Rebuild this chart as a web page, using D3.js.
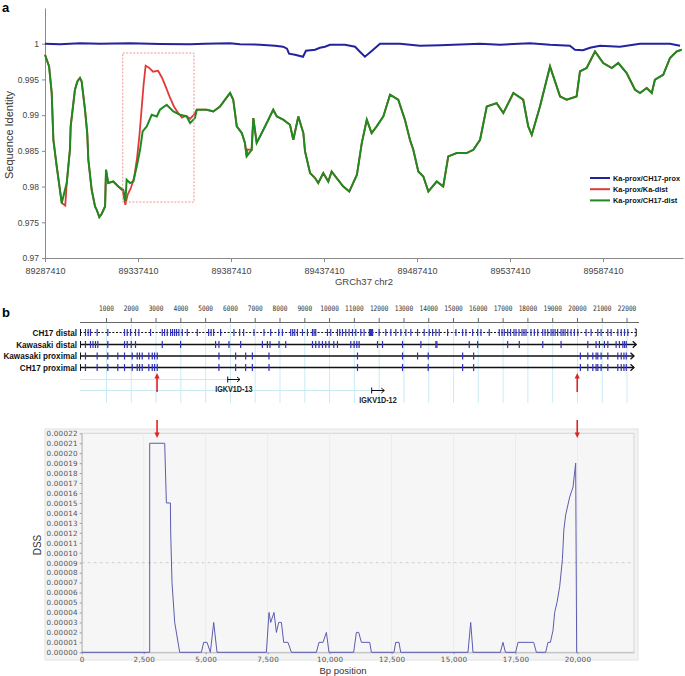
<!DOCTYPE html>
<html>
<head>
<meta charset="utf-8">
<script src="https://cdn.jsdelivr.net/npm/d3@7/dist/d3.min.js"></script>
<style>
  body { margin: 0; background: #fff; }
  text { font-family: "Liberation Sans", Arial, sans-serif; }
</style>
</head>
<body>
<svg id="fig" width="685" height="676"></svg>
<script>
// ---------- panel a : sequence identity along GRCh37 chr2 ----------
var chrStart = 89287410;
var chrTicks = [89287410, 89337410, 89387410, 89437410, 89487410, 89537410, 89587410];
var identTicks = [0.97, 0.975, 0.98, 0.985, 0.99, 0.995, 1];
var identTickLabels = ["0.97", "0.975", "0.98", "0.985", "0.99", "0.995", "1"];
var seriesNames = ["Ka-prox/CH17-prox", "Ka-prox/Ka-dist", "Ka-prox/CH17-dist"];
var seriesColors = ["#2323a0", "#e0393b", "#1f8a1f"];

// positions are kb from chrStart
var blueKb = [0, 8.1, 18.8, 29.6, 45.7, 61.8, 78, 86, 99.5, 104.8, 115.6, 123.7, 128, 130.1, 131.2, 134.4, 138.7, 140.3, 145.2, 147.8, 150.5, 153.2, 161.3, 166.7, 169.3, 172, 175.8, 180.1, 190.9, 201.6, 212.4, 233.9, 244.6, 260.7, 271.5, 282.2, 284.9, 289.2, 293, 298.4, 309.1, 319.9, 336, 341.4];
var blueVal = [1, 0.99993, 1.00007, 1, 1.00007, 0.99997, 0.99993, 1, 1.00007, 0.99993, 0.99986, 0.99972, 0.99958, 0.9993, 0.9986, 0.99846, 0.99818, 0.99902, 0.99916, 0.99944, 0.99958, 0.99986, 0.99986, 0.99958, 0.99888, 0.99818, 0.99902, 1, 1, 0.99972, 0.99979, 1, 0.99986, 1.00007, 0.99986, 0.99972, 0.99916, 0.99909, 0.99944, 0.99972, 0.99958, 1, 1, 0.99972];

var greenKb = [0, 2.2, 3.6, 4.5, 6.3, 9, 11.7, 13.4, 13.8, 16.1, 17.4, 18.8, 19.7, 21.5, 22.7, 23.3, 25.1, 26.9, 27.8, 29.2, 30.5, 32.3, 32.8, 34, 36.7, 39.4, 42.1, 43.2, 43.9, 45.7, 47.5, 49.3, 51.1, 52.5, 54.7, 57.4, 60.1, 61.8, 65.4, 69, 72.6, 76.2, 78, 80.6, 81.6, 86.9, 90.5, 94.1, 99.5, 101.2, 103.1, 105.8, 107.5, 108.4, 111.1, 112, 113.8, 115.6, 119.2, 122.7, 124.6, 128.1, 131.7, 133.5, 136.2, 138.9, 139.8, 142.5, 145.2, 146.9, 149.6, 152.3, 154.1, 156.8, 160.4, 163.6, 167.7, 170.3, 173, 175.6, 178.3, 181.9, 185.5, 189.9, 193.5, 196.2, 198, 200.7, 203.4, 206.1, 210.6, 214.1, 216.8, 221.3, 226.7, 230.3, 233.9, 237.5, 242.8, 246.4, 251.8, 257.1, 259.8, 261.7, 266.1, 271.5, 276.9, 280.5, 285.8, 287.6, 291.2, 295.7, 300.1, 304.7, 308.2, 312.7, 317.2, 319.9, 323.5, 326.2, 327.9, 332.4, 336, 339.6, 342.3];
var greenVal = [0.99846, 0.99682, 0.99314, 0.98655, 0.98282, 0.97769, 0.98053, 0.98515, 0.98842, 0.99356, 0.99472, 0.9952, 0.99472, 0.99076, 0.98749, 0.98375, 0.97955, 0.97721, 0.97675, 0.97573, 0.97619, 0.97721, 0.98235, 0.98049, 0.98071, 0.98001, 0.97955, 0.97791, 0.98095, 0.98049, 0.98071, 0.98282, 0.98515, 0.98772, 0.98842, 0.99006, 0.98982, 0.99076, 0.99146, 0.99052, 0.99006, 0.98982, 0.98889, 0.98959, 0.99076, 0.99076, 0.99052, 0.99122, 0.9931, 0.99216, 0.98842, 0.98749, 0.98609, 0.98422, 0.98515, 0.98959, 0.98613, 0.98702, 0.98889, 0.99076, 0.98982, 0.98936, 0.98866, 0.98655, 0.98982, 0.98749, 0.98492, 0.98189, 0.98119, 0.98049, 0.98189, 0.98071, 0.98211, 0.98119, 0.98001, 0.97931, 0.98165, 0.98609, 0.98936, 0.98749, 0.98842, 0.98982, 0.99286, 0.99216, 0.98936, 0.98655, 0.98515, 0.98211, 0.98141, 0.97931, 0.98071, 0.98001, 0.98422, 0.98469, 0.98469, 0.98515, 0.98655, 0.99122, 0.99169, 0.99029, 0.9931, 0.99216, 0.98842, 0.98725, 0.99122, 0.99682, 0.99262, 0.99216, 0.99262, 0.99612, 0.9966, 0.99892, 0.9973, 0.9966, 0.9973, 0.9959, 0.99356, 0.9931, 0.9938, 0.9931, 0.99496, 0.99566, 0.998, 0.99892, 0.99916];

// red follows green except inside the boxed region (and a couple of small spots)
var redBoxKb = [41.8, 43.2, 44.4, 46.2, 47.9, 49.5, 50.8, 51.9, 53, 54.1, 55.9, 58.1, 60.8, 62.9, 65.1, 67.2, 69.4, 71.5, 73.7, 75.8, 78, 80.1];
var redBoxVal = [0.97941, 0.97745, 0.97885, 0.97983, 0.98123, 0.98403, 0.98725, 0.99076, 0.99426, 0.99692, 0.99664, 0.99608, 0.99622, 0.99524, 0.99384, 0.99244, 0.99118, 0.99034, 0.98964, 0.98992, 0.9895, 0.99006];
var redExtraKb = [10.9, 108.9];
var redExtraVal = [0.97735, 0.9852];

var highlightKb = [41.8, 80.1];
var highlightVal = [0.97783, 0.9987];

// ---------- panel b : tracks ----------
var rulerTicks = [1000, 2000, 3000, 4000, 5000, 6000, 7000, 8000, 9000, 10000, 11000, 12000, 13000, 14000, 15000, 16000, 17000, 18000, 19000, 20000, 21000, 22000];
var trackNames = ["CH17 distal", "Kawasaki distal", "Kawasaki proximal", "CH17 proximal"];
var ch17DistalBp = [152, 261, 354, 624, 1053, 1727, 1836, 1969, 2171, 2305, 2777, 3250, 3343, 3452, 3585, 3666, 3747, 3827, 3920, 4058, 4259, 4663, 5120, 5221, 5322, 5604, 6142, 6372, 6533, 6950, 7354, 7624, 7947, 8097, 8432, 8513, 8594, 8703, 8905, 9107, 9309, 9374, 9441, 9914, 10047, 10318, 10411, 10520, 10653, 10786, 10924, 11057, 11259, 11392, 11998, 12269, 12471, 12673, 12875, 13077, 13279, 13549, 13816, 14018, 14155, 14289, 14422, 14761, 15096, 15367, 15500, 15771, 15973, 16106, 16441, 16845, 16954, 17047, 17184, 17300, 17439, 17519, 17640, 17762, 17843, 17923, 18125, 18260, 18397, 18599, 18692, 18801, 18934, 19015, 19096, 19200, 19338, 19419, 19500, 19609, 19742, 19875, 20012, 20347, 20549, 20820, 20953, 21224, 21357, 21627, 21765, 21898, 22031];
var ch17DistalBlock = [11580, 11760];
var kawaDistalBp = [152, 354, 455, 556, 649, 1053, 1727, 1836, 1998, 2171, 3250, 3989, 5402, 5536, 5940, 6412, 7289, 7491, 7596, 7960, 8230, 9309, 9441, 9575, 9712, 9845, 9979, 10169, 10318, 10855, 10988, 11097, 11190, 11933, 12135, 12943, 13682, 14288, 14329, 15634, 15973, 17184, 17653, 18599, 19338, 20416, 20751, 20884, 21086, 21224, 21559, 21692, 21830, 21898, 21967];
var kawaProxBp = [152, 624, 1053, 1456, 1727, 2038, 2240, 2333, 2442, 2708, 2846, 2939, 3048, 5536, 6210, 6614, 6885, 7555, 11126, 12943, 13549, 13978, 15367, 15811, 20117, 20416, 20618, 20751, 20820, 20953, 21224, 21627, 21765, 21874, 21967];
var ch17ProxBp = [152, 624, 1053, 1456, 1727, 2038, 2240, 2333, 2442, 2708, 2846, 2939, 3048, 5536, 6210, 6614, 6885, 7555, 11126, 12943, 13978, 15367, 15811, 20117, 20416, 20618, 20751, 20820, 20953, 21224, 21627, 21765, 21874, 21967];
var trackEndBp = [22370, 22370, 22280, 22280];
var geneNames = ["IGKV1D-13", "IGKV1D-12"];
var geneStartBp = [5890, 11698];
var geneEndBp = [6386, 12207];
var breakpointBp = [3040, 19990];

// ---------- panel b : DSS ----------
var dssXTicks = [0, 2500, 5000, 7500, 10000, 12500, 15000, 17500, 20000];
var dssYTicks = [0, 0.00001, 0.00002, 0.00003, 0.00004, 0.00005, 0.00006, 0.00007, 0.00008, 0.00009, 0.0001, 0.00011, 0.00012, 0.00013, 0.00014, 0.00015, 0.00016, 0.00017, 0.00018, 0.00019, 0.0002, 0.00021, 0.00022];
var dssPos = [0, 2743, 2743, 3348, 3416, 3578, 3590, 3643, 3752, 3953, 4829, 4921, 5056, 5190, 5325, 5459, 7450, 7556, 7624, 7757, 7854, 7947, 8056, 8149, 8322, 8459, 9467, 9573, 9734, 9871, 9976, 10972, 11081, 11174, 11283, 11618, 11686, 12598, 12667, 12800, 12868, 15583, 15692, 15785, 16890, 16995, 17092, 17507, 17600, 18233, 18342, 18717, 18810, 18907, 19012, 19080, 19173, 19282, 19391, 19450, 19524, 19686, 19820, 19927, 19967, 20000];
var dssVal = [0, 0, 0.00021, 0.00021, 0.00015, 0.00015, 0.00012, 0.00007, 0.00003, 0, 0, 0.00001, 0.00001, 0, 0.00003, 0, 0, 0.00004, 0.00003, 0.00004, 0.00002, 0.00003, 0.00003, 0.00001, 0.00001, 0, 0, 0.00001, 0.00001, 0.00002, 0, 0, 0.00002, 0.00002, 0.00001, 0.00001, 0, 0, 0.00001, 0.00001, 0, 0, 0.00003, 0, 0, 0.00001, 0, 0, 0.00001, 0.00001, 0, 0, 0.00001, 0.00001, 0.000022, 0.00004, 0.00005, 0.000066, 0.000093, 0.000123, 0.000138, 0.000156, 0.000166, 0.00019, 0, 0];

var svg = d3.select("#fig");

// narrow the bold labels a bit, the original uses a condensed face
function condense(sel, f) {
  sel.each(function() {
    var w = this.getComputedTextLength();
    d3.select(this).attr("textLength", w * f).attr("lengthAdjust", "spacingAndGlyphs");
  });
}

// ================= panel a =================
var xA = d3.scaleLinear().domain([chrStart, chrStart + 343000]).range([45, 683]);
var yA = d3.scaleLinear().domain([0.97, 1.005]).range([258, 8]);

svg.append("text").attr("x", 2).attr("y", 12)
  .style("font-size", "13px").style("font-weight", "bold").text("a");

var gxA = svg.append("g").attr("transform", "translate(0,258)")
  .call(d3.axisBottom(xA).tickValues(chrTicks).tickFormat(d3.format("d")).tickSize(4).tickSizeOuter(0));
var gyA = svg.append("g").attr("transform", "translate(45,0)")
  .call(d3.axisLeft(yA).tickValues(identTicks).tickFormat(function(d, i) { return identTickLabels[i]; }).tickSize(3).tickSizeOuter(0));
[gxA, gyA].forEach(function(g) {
  g.select(".domain").attr("stroke", "#8a8a8a");
  g.selectAll(".tick line").attr("stroke", "#8a8a8a");
  g.selectAll(".tick text").attr("fill", "#444")
    .style("font-family", "'Liberation Sans', Arial, sans-serif");
});
gxA.selectAll(".tick text").style("font-size", "9px").attr("dy", "0.95em");
gyA.selectAll(".tick text").style("font-size", "8.5px");

svg.append("text").attr("x", 364).attr("y", 285).attr("text-anchor", "middle")
  .attr("fill", "#444").style("font-size", "9.5px").text("GRCh37 chr2");
svg.append("text").attr("transform", "translate(13,135) rotate(-90)").attr("text-anchor", "middle")
  .attr("fill", "#333").style("font-size", "11px").text("Sequence Identity");

var lineA = d3.line()
  .x(function(d) { return xA(chrStart + d[0] * 1000); })
  .y(function(d) { return yA(d[1]); });

var bluePts = blueKb.map(function(k, i) { return [k, blueVal[i]]; });
var greenPts = greenKb.map(function(k, i) { return [k, greenVal[i]]; });
var redPts = greenPts.filter(function(p) { return p[0] < highlightKb[0] || p[0] > highlightKb[1] + 1; })
  .concat(redBoxKb.map(function(k, i) { return [k, redBoxVal[i]]; }))
  .concat(redExtraKb.map(function(k, i) { return [k, redExtraVal[i]]; }))
  .sort(function(a, b) { return a[0] - b[0]; });

svg.append("path").attr("d", lineA(bluePts)).attr("fill", "none")
  .attr("stroke", seriesColors[0]).attr("stroke-width", 2);
svg.append("path").attr("d", lineA(redPts)).attr("fill", "none")
  .attr("stroke", seriesColors[1]).attr("stroke-width", 1.8);
svg.append("path").attr("d", lineA(greenPts)).attr("fill", "none")
  .attr("stroke", seriesColors[2]).attr("stroke-width", 2);

// highlighted region
svg.append("rect")
  .attr("x", xA(chrStart + highlightKb[0] * 1000)).attr("y", yA(highlightVal[1]))
  .attr("width", xA(chrStart + highlightKb[1] * 1000) - xA(chrStart + highlightKb[0] * 1000))
  .attr("height", yA(highlightVal[0]) - yA(highlightVal[1]))
  .attr("fill", "none").attr("stroke", "#ec8a8a").attr("stroke-width", 0.9)
  .attr("stroke-dasharray", "2,1.5");

// legend
var leg = svg.append("g").attr("transform", "translate(590,178)");
seriesNames.forEach(function(name, i) {
  leg.append("line").attr("x1", 0).attr("x2", 20).attr("y1", i * 11.2).attr("y2", i * 11.2)
    .attr("stroke", seriesColors[i]).attr("stroke-width", 2);
  leg.append("text").attr("x", 23).attr("y", i * 11.2 + 3)
    .style("font-size", "8px").style("font-weight", "bold").attr("fill", "#111").text(name)
    .call(condense, 0.92);
});

// ================= panel b : tracks =================
var xB = d3.scaleLinear().domain([0, 22280]).range([81.7, 634]);

svg.append("text").attr("x", 2).attr("y", 317)
  .style("font-size", "13px").style("font-weight", "bold").text("b");

// light grid
var grid = svg.append("g");
grid.selectAll("line.v").data(rulerTicks).enter().append("line")
  .attr("x1", function(d) { return xB(d); }).attr("x2", function(d) { return xB(d); })
  .attr("y1", 324).attr("y2", 403).attr("stroke", "#c5e9f3").attr("stroke-width", 0.9);
grid.append("line").attr("x1", 80).attr("x2", xB(6000)).attr("y1", 379.5).attr("y2", 379.5)
  .attr("stroke", "#c5e9f3").attr("stroke-width", 0.9);
grid.append("line").attr("x1", 80).attr("x2", xB(12000)).attr("y1", 390.5).attr("y2", 390.5)
  .attr("stroke", "#c5e9f3").attr("stroke-width", 0.9);

// ruler
var ruler = svg.append("g");
ruler.append("line").attr("x1", 80).attr("x2", 639).attr("y1", 322.5).attr("y2", 322.5)
  .attr("stroke", "#666").attr("stroke-width", 1);
ruler.selectAll("line.t").data(rulerTicks).enter().append("line")
  .attr("x1", function(d) { return xB(d); }).attr("x2", function(d) { return xB(d); })
  .attr("y1", 318).attr("y2", 322.5).attr("stroke", "#666");
ruler.selectAll("text").data(rulerTicks).enter().append("text")
  .attr("x", function(d) { return xB(d); }).attr("y", 311).attr("text-anchor", "middle")
  .attr("fill", "#333").style("font-size", "7.5px").style("font-family", "'DejaVu Sans Mono', monospace")
  .text(function(d) { return d; })
  .call(condense, 0.82);

var trackY = [332.5, 344.5, 356, 367.5];
var trackFeatures = [ch17DistalBp, kawaDistalBp, kawaProxBp, ch17ProxBp];
var tracks = svg.append("g");
trackNames.forEach(function(name, i) {
  var y = trackY[i];
  var x0 = 80, x1 = xB(trackEndBp[i]);
  tracks.append("text").attr("x", 77).attr("y", y + 3.2).attr("text-anchor", "end")
    .style("font-size", "9.5px").style("font-weight", "bold").attr("fill", "#111").text(name)
    .call(condense, 0.86);
  tracks.append("line").attr("x1", x0).attr("x2", x1).attr("y1", y).attr("y2", y)
    .attr("stroke", "#111").attr("stroke-width", i === 0 ? 1 : 1.3)
    .attr("stroke-dasharray", i === 0 ? "2,1.6" : null);
  tracks.append("line").attr("x1", x0 + 0.5).attr("x2", x0 + 0.5).attr("y1", y - 3.5).attr("y2", y + 3.5)
    .attr("stroke", "#111").attr("stroke-width", 1);
  if (i === 0) {
    tracks.append("path").attr("d", "M" + (x1 - 1.5) + "," + (y - 3.5) + "H" + x1 + "V" + (y + 3.5) + "H" + (x1 - 1.5))
      .attr("fill", "none").attr("stroke", "#111").attr("stroke-width", 1);
  } else {
    tracks.append("path").attr("d", "M" + (x1 - 3.5) + "," + (y - 3.2) + "L" + x1 + "," + y + "L" + (x1 - 3.5) + "," + (y + 3.2))
      .attr("fill", "none").attr("stroke", "#111").attr("stroke-width", 1.3);
  }
  tracks.selectAll("line.f" + i).data(trackFeatures[i]).enter().append("line")
    .attr("class", "f" + i)
    .attr("x1", function(d) { return xB(d); }).attr("x2", function(d) { return xB(d); })
    .attr("y1", y - 3.5).attr("y2", y + 3.5)
    .attr("stroke", "#2f2fc0").attr("stroke-width", 1.2);
});
tracks.append("rect").attr("x", xB(ch17DistalBlock[0])).attr("y", trackY[0] - 3.5)
  .attr("width", xB(ch17DistalBlock[1]) - xB(ch17DistalBlock[0])).attr("height", 7)
  .attr("fill", "#2f2fc0");

// genes
var geneY = [379.5, 390.5];
geneNames.forEach(function(name, i) {
  var xs = xB(geneStartBp[i]), xe = xB(geneEndBp[i]), y = geneY[i];
  var g = svg.append("g");
  g.append("line").attr("x1", xs).attr("x2", xe).attr("y1", y).attr("y2", y).attr("stroke", "#111").attr("stroke-width", 1);
  g.append("line").attr("x1", xs).attr("x2", xs).attr("y1", y - 3).attr("y2", y + 3).attr("stroke", "#111").attr("stroke-width", 1);
  g.append("path").attr("d", "M" + (xe - 3) + "," + (y - 2.5) + "L" + xe + "," + y + "L" + (xe - 3) + "," + (y + 2.5))
    .attr("fill", "none").attr("stroke", "#111").attr("stroke-width", 1);
  g.append("text").attr("x", (xs + xe) / 2).attr("y", y + 12).attr("text-anchor", "middle")
    .style("font-size", "8.5px").style("font-weight", "bold").attr("fill", "#222").text(name)
    .call(condense, 0.85);
});

// ================= panel b : DSS plot =================
var xD = d3.scaleLinear().domain([0, 22280]).range([81.7, 634]);
var yD = d3.scaleLinear().domain([0, 0.00022]).range([652.3, 433.3]);

svg.insert("rect", ":first-child").attr("x", 45).attr("y", 429).attr("width", 593).attr("height", 231)
  .attr("fill", "#f3f3f3").attr("stroke", "#e2e2e2");
svg.append("rect").attr("x", 81.7).attr("y", 433.3).attr("width", 552.3).attr("height", 219)
  .attr("fill", "#f6f6f6").attr("stroke", "#d6d6d6").attr("stroke-width", 1);

var gD = svg.append("g");
gD.selectAll("line.vg").data(dssXTicks.slice(1)).enter().append("line")
  .attr("x1", function(d) { return xD(d); }).attr("x2", function(d) { return xD(d); })
  .attr("y1", 433.3).attr("y2", 652.3).attr("stroke", "#ececec").attr("stroke-width", 1);
gD.append("line").attr("x1", 81.7).attr("x2", 634).attr("y1", yD(0.00009)).attr("y2", yD(0.00009))
  .attr("stroke", "#d0d0d0").attr("stroke-dasharray", "3,3");

var gxD = svg.append("g").attr("transform", "translate(0,652.3)")
  .call(d3.axisBottom(xD).tickValues(dssXTicks).tickFormat(d3.format(",")).tickSize(2).tickSizeOuter(0));
var gyD = svg.append("g").attr("transform", "translate(81.7,0)")
  .call(d3.axisLeft(yD).tickValues(dssYTicks).tickFormat(d3.format(".5f")).tickSize(2).tickSizeOuter(0));
[gxD, gyD].forEach(function(g) {
  g.select(".domain").attr("stroke", "#bbb");
  g.selectAll(".tick line").attr("stroke", "#999");
  g.selectAll(".tick text").attr("fill", "#555").style("font-size", "7.2px")
    .style("font-family", "'DejaVu Sans', sans-serif").style("letter-spacing", "0.2px");
});
gyD.selectAll(".tick text").attr("x", -4);

svg.append("path")
  .attr("d", d3.line().x(function(d, i) { return xD(dssPos[i]); }).y(function(d) { return yD(d); })(dssVal))
  .attr("fill", "none").attr("stroke", "#5c5cb0").attr("stroke-width", 1);

svg.append("text").attr("x", 343).attr("y", 674).attr("text-anchor", "middle")
  .attr("fill", "#333").style("font-size", "9.5px").text("Bp position");
svg.append("text").attr("transform", "translate(41,545) rotate(-90)").attr("text-anchor", "middle")
  .attr("fill", "#333").style("font-size", "10px").text("DSS");

// red breakpoint arrows, drawn last so they sit on top
function redArrow(x, yFrom, yTo) {
  var dir = yTo < yFrom ? -1 : 1;
  svg.append("line").attr("x1", x).attr("x2", x).attr("y1", yFrom).attr("y2", yTo - dir * 4)
    .attr("stroke", "#e02424").attr("stroke-width", 1.6);
  svg.append("path").attr("d", "M" + (x - 2.6) + "," + (yTo - dir * 5.5) + "L" + (x + 2.6) + "," + (yTo - dir * 5.5) + "L" + x + "," + yTo + "Z")
    .attr("fill", "#e02424");
}
breakpointBp.forEach(function(bp) {
  redArrow(xB(bp), 392, 373);
  redArrow(xB(bp), 420, 438);
});
</script>
</body>
</html>
